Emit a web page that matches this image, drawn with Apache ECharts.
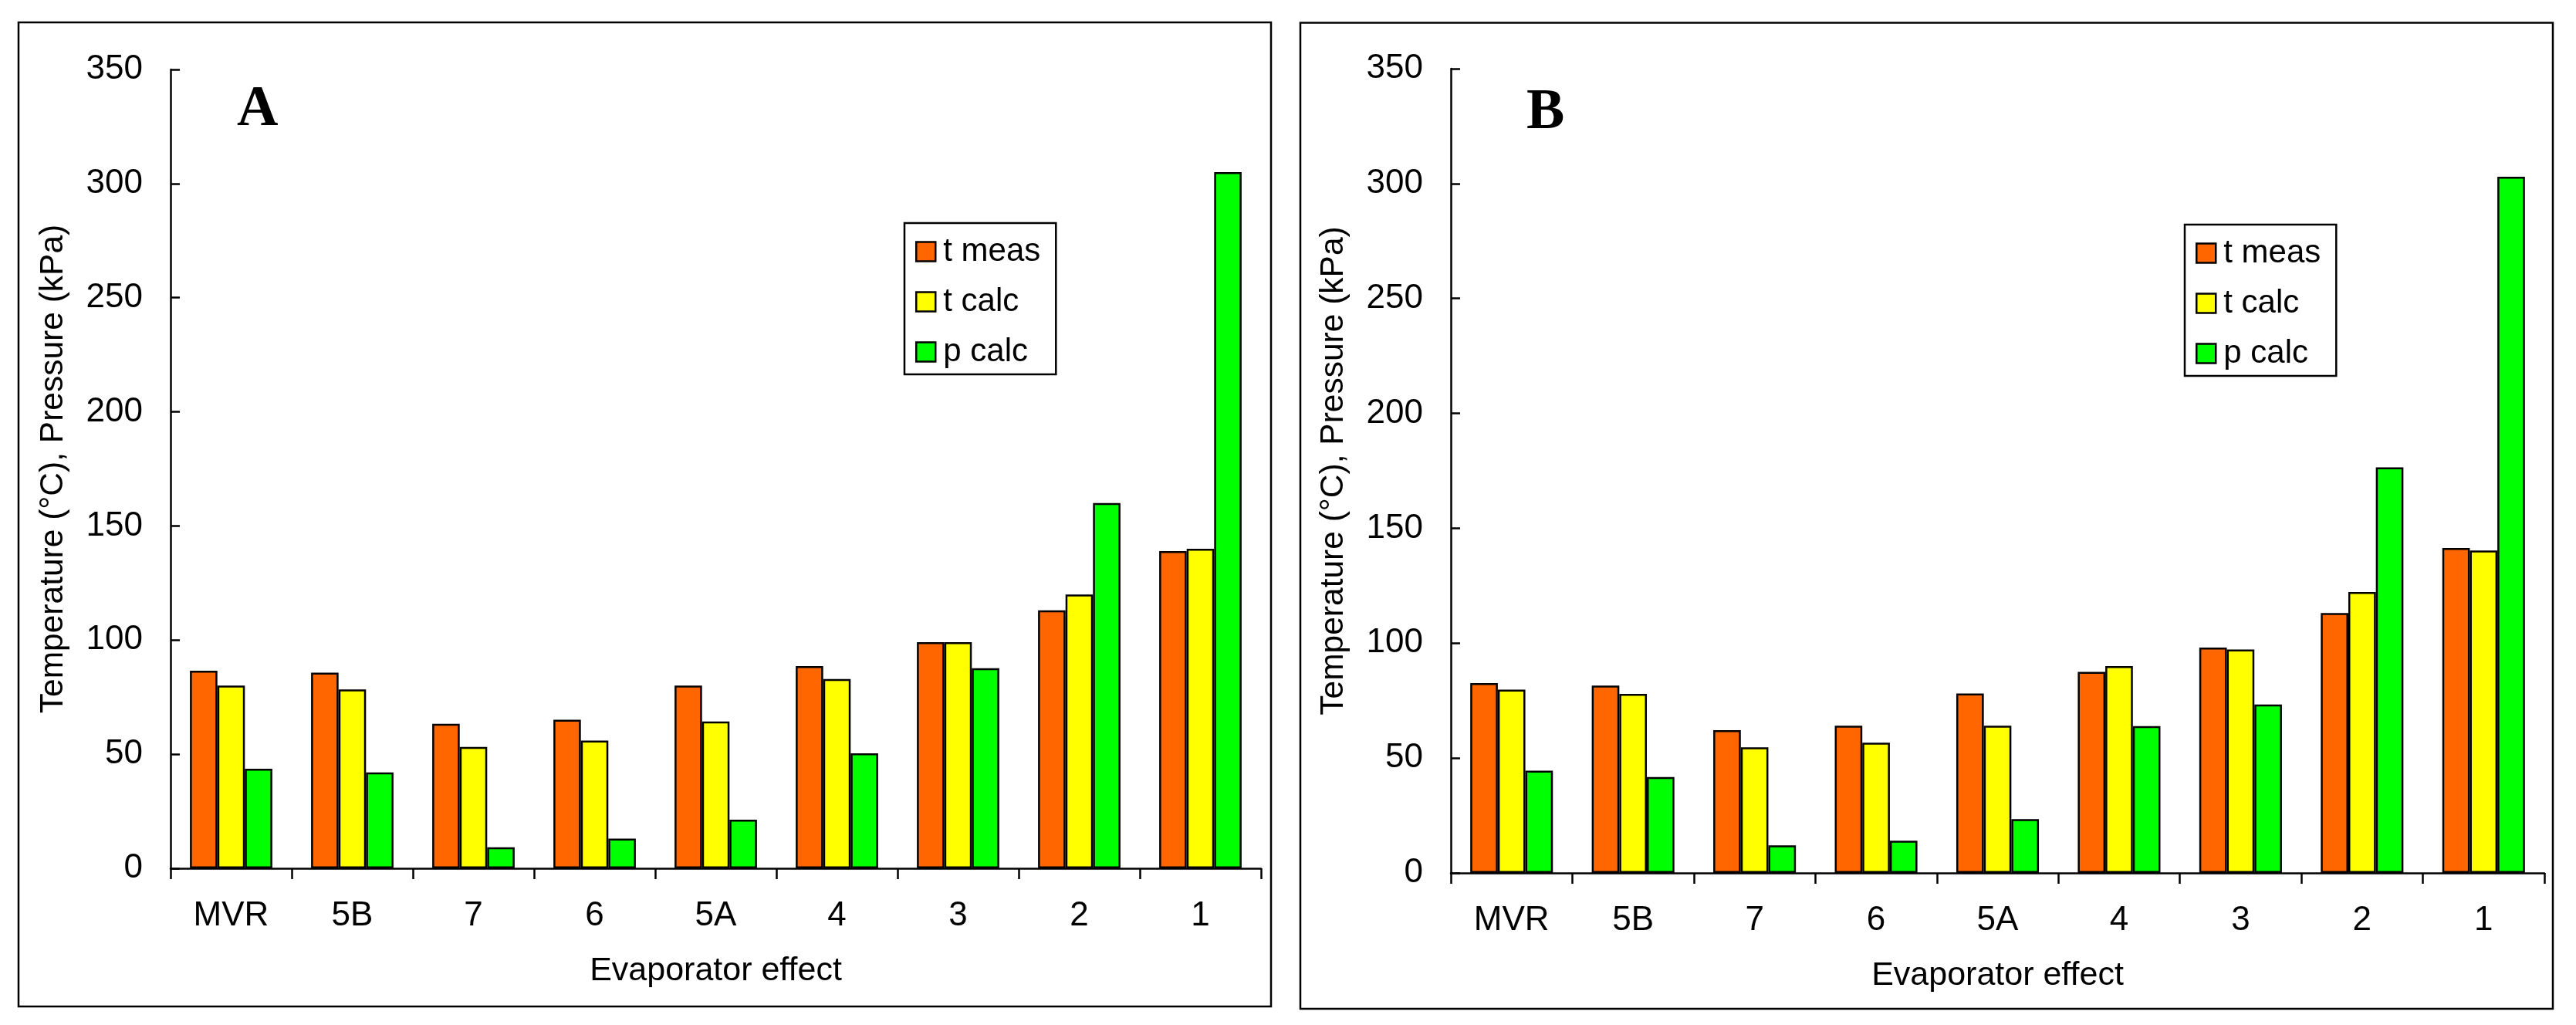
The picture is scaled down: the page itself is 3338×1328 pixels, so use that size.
<!DOCTYPE html>
<html>
<head>
<meta charset="utf-8">
<script src="https://cdn.jsdelivr.net/npm/echarts@6/dist/echarts.min.js"></script>
<style>
html,body{margin:0;padding:0;background:#fff;}
#chart{width:3338px;height:1328px;}
</style>
</head>
<body>
<div id="chart"></div>
<script>
// ---- data ----
const categories = ['MVR', '5B', '7', '6', '5A', '4', '3', '2', '1'];
const seriesNames = ['t meas', 't calc', 'p calc'];
const yTicks = [0, 50, 100, 150, 200, 250, 300, 350];

const tMeasA = [86.6, 85.7, 63.3, 65.1, 80.1, 88.6, 99.1, 113, 139];
const tCalcA = [80.1, 78.4, 53.2, 56.0, 64.3, 82.9, 99.1, 120, 140];
const pCalcA = [43.6, 42.0, 9.2, 13.0, 21.3, 50.4, 87.7, 160, 305];

const tMeasB = [82.6, 81.5, 62.1, 64.1, 78.1, 87.5, 98.1, 113.1, 141.4];
const tCalcB = [79.8, 77.9, 54.7, 56.7, 64.1, 90.0, 97.2, 122.3, 140.3];
const pCalcB = [44.5, 41.7, 12.0, 14.0, 23.4, 63.9, 73.3, 176.5, 303];

const colors = ['#FF6600', '#FFFF00', '#00FF00'];
const xTitle = 'Evaporator effect';
const yTitle = 'Temperature (°C), Pressure (kPa)';

// ---- chart ----
const FONT = "'Liberation Sans', Arial, sans-serif";
const chart = echarts.init(document.getElementById('chart'), null, {renderer: 'canvas'});

function xAxisDef(gi) {
  return {
    type: 'category', gridIndex: gi, data: categories,
    name: xTitle, nameLocation: 'middle', nameGap: 112,
    nameTextStyle: {fontFamily: FONT, fontSize: 43, color: '#000'},
    axisLine: {lineStyle: {color: '#000', width: 2.5}},
    axisTick: {show: true, inside: false, length: 14, lineStyle: {color: '#000', width: 2.5}},
    axisLabel: {fontFamily: FONT, fontSize: 44, color: '#000', margin: 40, interval: 0},
    splitLine: {show: false}
  };
}
function yAxisDef(gi) {
  return {
    type: 'value', gridIndex: gi, min: yTicks[0], max: yTicks[yTicks.length - 1],
    interval: yTicks[1] - yTicks[0],
    name: yTitle, nameLocation: 'middle', nameGap: 130,
    nameTextStyle: {fontFamily: FONT, fontSize: 42.5, color: '#000'},
    axisLine: {show: true, lineStyle: {color: '#000', width: 2.5}},
    axisTick: {show: true, inside: true, length: 12, lineStyle: {color: '#000', width: 2.5}},
    axisLabel: {fontFamily: FONT, fontSize: 44, color: '#000', margin: 36},
    splitLine: {show: false}
  };
}
function barSeries(name, data, ci, gi) {
  return {
    type: 'bar', name: name, data: data,
    xAxisIndex: gi, yAxisIndex: gi,
    barGap: '0%', barCategoryGap: '32%',
    itemStyle: {color: colors[ci], borderColor: '#000', borderWidth: 2.5},
    emphasis: {disabled: true},
    animation: false
  };
}
function legendDef(left, top) {
  return {
    orient: 'vertical', left: left, top: top,
    data: seriesNames,
    icon: 'rect', itemWidth: 25, itemHeight: 25, itemGap: 23,
    padding: [16, 20, 8, 14],
    borderColor: '#000', borderWidth: 2.5, backgroundColor: '#fff',
    textStyle: {fontFamily: FONT, fontSize: 42, color: '#000', lineHeight: 42, padding: [0, 0, 0, 5]},
    itemStyle: {borderColor: '#000', borderWidth: 2.5},
    selectedMode: false
  };
}

const option = {
  backgroundColor: '#fff',
  animation: false,
  grid: [
    {left: 221, top: 90, width: 1413, height: 1035, containLabel: false},
    {left: 1880, top: 89, width: 1417, height: 1042, containLabel: false}
  ],
  xAxis: [xAxisDef(0), xAxisDef(1)],
  yAxis: [yAxisDef(0), yAxisDef(1)],
  legend: [legendDef(1172, 289), legendDef(2831, 291)],
  series: [
    barSeries(seriesNames[0], tMeasA, 0, 0),
    barSeries(seriesNames[1], tCalcA, 1, 0),
    barSeries(seriesNames[2], pCalcA, 2, 0),
    barSeries(seriesNames[0], tMeasB, 0, 1),
    barSeries(seriesNames[1], tCalcB, 1, 1),
    barSeries(seriesNames[2], pCalcB, 2, 1)
  ],
  graphic: [
    {type: 'rect', shape: {x: 24, y: 29, width: 1623, height: 1275},
     style: {fill: 'none', stroke: '#000', lineWidth: 2.5}, silent: true, z: -1},
    {type: 'rect', shape: {x: 1685, y: 29.5, width: 1623, height: 1277.5},
     style: {fill: 'none', stroke: '#000', lineWidth: 2.5}, silent: true, z: -1},
    {type: 'text', left: 307, top: 106, style: {text: 'A', fontFamily: "'Liberation Serif', 'Times New Roman', serif",
      fontWeight: 'bold', fontSize: 74, fill: '#000', verticalAlign: 'middle'}, silent: true},
    {type: 'text', left: 1978, top: 110, style: {text: 'B', fontFamily: "'Liberation Serif', 'Times New Roman', serif",
      fontWeight: 'bold', fontSize: 74, fill: '#000', verticalAlign: 'middle'}, silent: true}
  ]
};
chart.setOption(option);
</script>
</body>
</html>
